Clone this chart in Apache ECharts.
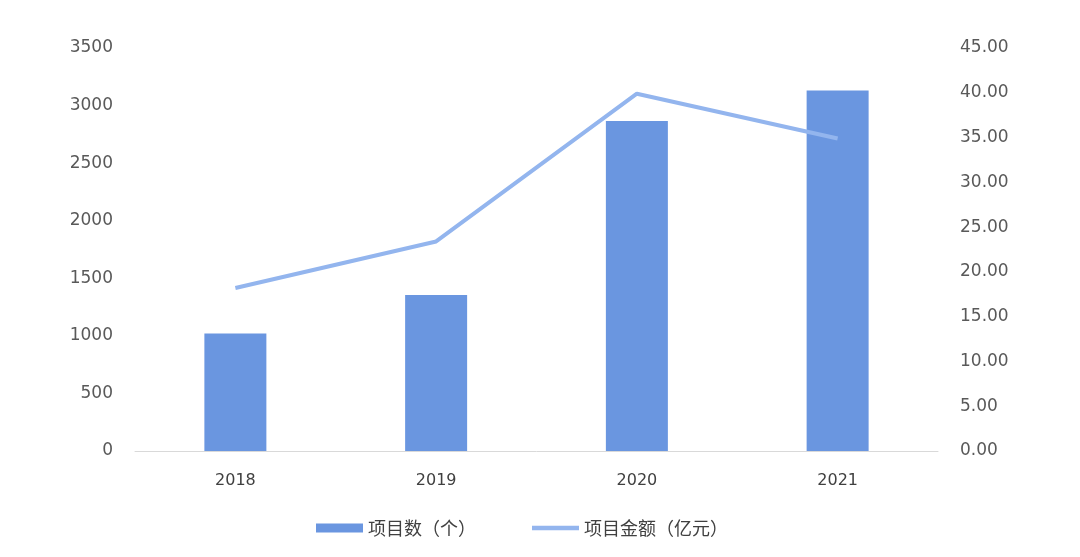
<!DOCTYPE html>
<html><head><meta charset="utf-8">
<script src="https://cdn.jsdelivr.net/npm/echarts@6/dist/echarts.min.js"></script>
<style>html,body{margin:0;padding:0;background:#fff}#c{width:1080px;height:557px}</style>
</head><body><div id="c"></div>
<script>
const categories = ['2018', '2019', '2020', '2021'];
const projectCount = [1020, 1355, 2865, 3130];
const projectAmount = [18.2, 23.4, 39.9, 34.9];
const leftTicks = [0, 500, 1000, 1500, 2000, 2500, 3000, 3500];
const rightTicks = [0, 5, 10, 15, 20, 25, 30, 35, 40, 45];

const chart = echarts.init(document.getElementById('c'));
const numFont = '"DejaVu Sans",sans-serif';
const cjkFont = '"Noto Sans CJK SC",sans-serif';
chart.setOption({
  animation: false,
  grid: { left: 135, right: 142, top: 48, bottom: 106 },
  legend: {
    top: 514, left: 311, itemGap: 56, itemWidth: 47, itemHeight: 9,
    textStyle: { fontSize: 18, color: '#404040', fontFamily: cjkFont },
    data: [
      { name: '项目数（个）', icon: 'rect' },
      { name: '项目金额（亿元）', icon: 'path://M0,0 L10,0 L10,1 L0,1 Z' }
    ]
  },
  xAxis: {
    type: 'category', data: categories,
    axisLine: { lineStyle: { color: '#d9d9d9', width: 1 } },
    axisTick: { show: false },
    axisLabel: { color: '#404040', fontSize: 16, margin: 22, fontFamily: numFont }
  },
  yAxis: [
    {
      type: 'value', min: leftTicks[0], max: leftTicks[leftTicks.length - 1], interval: 500,
      splitLine: { show: false }, axisLine: { show: false }, axisTick: { show: false },
      axisLabel: { color: '#595959', fontSize: 17, margin: 22, fontFamily: numFont,
        padding: [4, 0, 0, 0], formatter: v => String(v) }
    },
    {
      type: 'value', min: rightTicks[0], max: rightTicks[rightTicks.length - 1], interval: 5,
      splitLine: { show: false }, axisLine: { show: false }, axisTick: { show: false },
      axisLabel: { color: '#595959', fontSize: 17, margin: 22, fontFamily: numFont,
        padding: [4, 0, 0, 0], formatter: v => v.toFixed(2) }
    }
  ],
  series: [
    {
      name: '项目数（个）', type: 'bar', data: projectCount, yAxisIndex: 0,
      barWidth: 62, itemStyle: { color: '#6a96e0' }
    },
    {
      name: '项目金额（亿元）', type: 'line', data: projectAmount, yAxisIndex: 1,
      symbol: 'none', lineStyle: { color: '#93b5ee', width: 4 }, itemStyle: { color: '#93b5ee' }
    }
  ]
});
</script></body></html>
